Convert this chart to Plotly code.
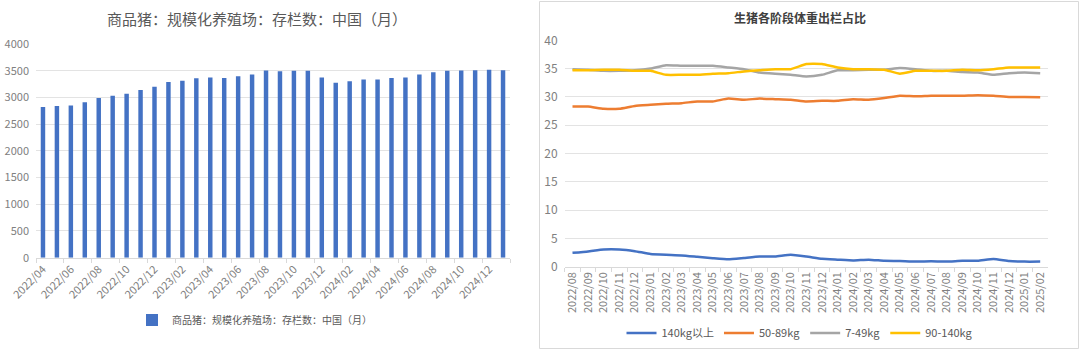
import plotly.graph_objects as go

# ---------------- data ----------------
bar_months = ["2022/04", "2022/05", "2022/06", "2022/07", "2022/08", "2022/09", "2022/10", "2022/11",
              "2022/12", "2023/01", "2023/02", "2023/03", "2023/04", "2023/05", "2023/06", "2023/07",
              "2023/08", "2023/09", "2023/10", "2023/11", "2023/12", "2024/01", "2024/02", "2024/03",
              "2024/04", "2024/05", "2024/06", "2024/07", "2024/08", "2024/09", "2024/10", "2024/11",
              "2024/12", "2025/01"]
bar_values = [2820, 2840, 2850, 2910, 2990, 3030, 3070, 3140, 3200, 3290, 3310, 3360, 3375, 3365,
              3395, 3430, 3505, 3490, 3500, 3500, 3375, 3275, 3305, 3335, 3335, 3365, 3375, 3430,
              3470, 3500, 3505, 3510, 3520, 3510]
bar_name = "商品猪：规模化养殖场：存栏数：中国（月）"

line_months = ["2022/08", "2022/09", "2022/10", "2022/11", "2022/12", "2023/01", "2023/02", "2023/03",
               "2023/04", "2023/05", "2023/06", "2023/07", "2023/08", "2023/09", "2023/10", "2023/11",
               "2023/12", "2024/01", "2024/02", "2024/03", "2024/04", "2024/05", "2024/06", "2024/07",
               "2024/08", "2024/09", "2024/10", "2024/11", "2024/12", "2025/01", "2025/02"]
w_140_plus = [2.45, 2.7, 3.05, 3.05, 2.75, 2.25, 2.1, 2.0, 1.75, 1.5, 1.3, 1.55, 1.8, 1.8, 2.1, 1.8,
              1.4, 1.25, 1.1, 1.25, 1.05, 1.0, 0.9, 0.95, 0.9, 1.05, 1.05, 1.35, 1.0, 0.9, 0.9]
w_50_89 = [28.3, 28.3, 27.9, 27.9, 28.4, 28.6, 28.8, 28.9, 29.2, 29.2, 29.7, 29.5, 29.7, 29.6, 29.5,
           29.2, 29.3, 29.3, 29.6, 29.5, 29.8, 30.2, 30.1, 30.2, 30.2, 30.2, 30.3, 30.2, 30.0, 30.0, 29.95]
w_7_49 = [34.9, 34.8, 34.6, 34.6, 34.7, 35.0, 35.6, 35.5, 35.5, 35.5, 35.2, 34.9, 34.3, 34.1, 33.9,
          33.6, 33.9, 34.7, 34.7, 34.8, 34.8, 35.1, 34.9, 34.6, 34.6, 34.4, 34.3, 33.9, 34.2, 34.3, 34.2]
w_90_140 = [34.7, 34.7, 34.8, 34.8, 34.6, 34.6, 33.9, 33.9, 33.9, 34.1, 34.2, 34.5, 34.7, 34.9, 34.9,
            35.8, 35.8, 35.2, 34.9, 34.9, 34.8, 34.1, 34.6, 34.6, 34.6, 34.8, 34.7, 34.9, 35.2, 35.2, 35.2]
line_series = [("140kg以上", w_140_plus, "#4472C4"),
               ("50-89kg", w_50_89, "#ED7D31"),
               ("7-49kg", w_7_49, "#A5A5A5"),
               ("90-140kg", w_90_140, "#FFC000")]

FONT = "Noto Sans CJK SC, Microsoft YaHei, sans-serif"
TICK = "#808080"
GRID = "#e3e3e3"

fig = go.Figure()

fig.add_trace(go.Bar(x=bar_months, y=bar_values, name=bar_name, marker_color="#4472C4",
                     width=0.32, xaxis="x", yaxis="y", legend="legend"))

for name, vals, col in line_series:
    fig.add_trace(go.Scatter(x=line_months, y=vals, name=name, mode="lines",
                             line=dict(color=col, width=2.5, shape="spline", smoothing=0.4),
                             xaxis="x2", yaxis="y2", legend="legend2"))

fig.update_layout(
    template="none",
    width=1080, height=350,
    margin=dict(l=0, r=0, t=0, b=0, autoexpand=False),
    paper_bgcolor="white", plot_bgcolor="white",
    font=dict(family=FONT, size=11, color=TICK),
    xaxis=dict(domain=[36 / 1080, 510 / 1080], anchor="y", type="category", automargin=False,
               range=[-0.5, len(bar_months) - 0.5], dtick=2, tickangle=-45,
               showline=True, linecolor="#d9d9d9", linewidth=1, ticks="outside", tickcolor="#d9d9d9",
               ticklen=4, tickson="boundaries", showgrid=False, zeroline=False,
               tickfont=dict(size=11, color=TICK)),
    yaxis=dict(domain=[1 - 257.7 / 350, 1 - 44 / 350], anchor="x", range=[0, 4000], automargin=False,
               dtick=500, showgrid=True, gridcolor=GRID, gridwidth=1, zeroline=False, showline=False,
               ticks="", tickfont=dict(size=11, color=TICK), ticklabelstandoff=6),
    xaxis2=dict(domain=[564.7 / 1080, 1048 / 1080], anchor="y2", type="category", automargin=False,
                range=[-0.5, len(line_months) - 0.5], tickangle=-90,
                showline=True, linecolor="#d9d9d9", linewidth=1, ticks="outside", tickcolor="#d9d9d9",
                ticklen=4, tickson="boundaries", showgrid=False, zeroline=False,
                tickfont=dict(size=11, color=TICK)),
    yaxis2=dict(domain=[1 - 266.7 / 350, 1 - 40.3 / 350], anchor="x2", range=[0, 40], automargin=False,
                dtick=5, showgrid=True, gridcolor=GRID, gridwidth=1, zeroline=False, showline=False,
                ticks="", tickfont=dict(size=12, color=TICK), ticklabelstandoff=6),
    legend=dict(orientation="h", x=132 / 1080, y=1 - 320 / 350, xanchor="left", yanchor="middle",
                font=dict(size=10, color="#595959"), bgcolor="rgba(0,0,0,0)", borderwidth=0),
    legend2=dict(orientation="h", x=800 / 1080, y=1 - 333 / 350, xanchor="center", yanchor="middle",
                 font=dict(size=11, color="#595959"), bgcolor="rgba(0,0,0,0)", borderwidth=0,
                 itemwidth=30),
    showlegend=True,
    annotations=[
        dict(text="商品猪：规模化养殖场：存栏数：中国（月）", x=257 / 1080, y=1 - 19 / 350,
             xref="paper", yref="paper", showarrow=False, xanchor="center", yanchor="middle",
             font=dict(size=15, color="#595959", family=FONT)),
        dict(text="<b>生猪各阶段体重出栏占比</b>", x=800 / 1080, y=1 - 17 / 350,
             xref="paper", yref="paper", showarrow=False, xanchor="center", yanchor="middle",
             font=dict(size=12, color="#404040", family=FONT)),
    ],
    shapes=[dict(type="rect", xref="paper", yref="paper", x0=539.5 / 1080, x1=1078.5 / 1080,
                 y0=1 - 348.5 / 350, y1=1 - 1.5 / 350, line=dict(color="#d9d9d9", width=1),
                 fillcolor="rgba(0,0,0,0)")],
)

fig.write_html("out.html")
